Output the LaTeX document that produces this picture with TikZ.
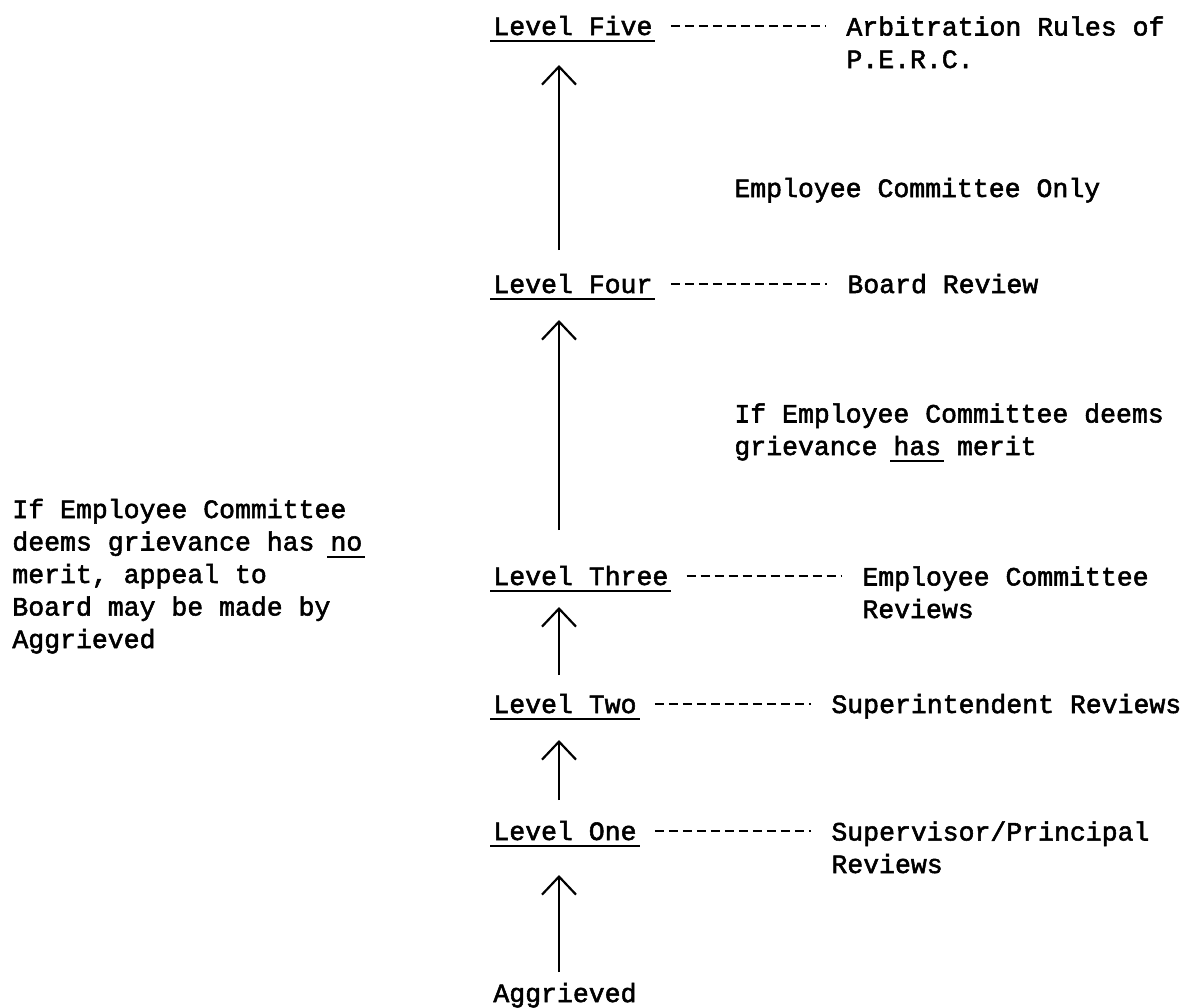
\documentclass[tikz,border=0pt]{standalone}
\usepackage{fontspec}
\setmainfont{Liberation Mono}[FakeBold=2]
\usetikzlibrary{arrows.meta}
\newcommand{\uln}[1]{\setbox0\hbox{#1}\rlap{\kern-1.5pt\rule[-3.5pt]{\dimexpr\wd0+3pt\relax}{1pt}}\box0\relax}
\begin{document}
\begin{tikzpicture}[x=0.5pt,y=-0.5pt,
  every node/.style={inner sep=0pt,anchor=base west,font=\fontsize{13.25}{16.25}\selectfont},
  note/.style={align=left},
  uparr/.style={line width=1.1pt,-{Straight Barb[length=9pt,width=17pt,line width=1.1pt]}},
  dashline/.style={line width=1.2pt,dash pattern=on 4.5pt off 2.5pt,shorten <=9pt,shorten >=10pt}]
\useasboundingbox (0,0) rectangle (1186,1007);
%
\node (l5) at (493,35) {\uln{Level Five}};
\node (l4) at (493,293) {\uln{Level Four}};
\node (l3) at (493,585) {\uln{Level Three}};
\node (l2) at (493,713) {\uln{Level Two}};
\node (l1) at (493,840) {\uln{Level One}};
\node (agg) at (493,1002) {Aggrieved};
%
% multi-line notes sit on their last line
\node[note] (d5) at (846,68) {Arbitration Rules of\\P.E.R.C.};
\node[note] (d4) at (847,293) {Board Review};
\node[note] (d3) at (862,618) {Employee Committee\\Reviews};
\node[note] (d2) at (831,713) {Superintendent Reviews};
\node[note] (d1) at (831,873) {Supervisor/Principal\\Reviews};
%
\node[note] (only) at (734,197) {Employee Committee Only};
\node[note] (merit) at (734,455) {If Employee Committee deems\\grievance \uln{has} merit};
\node[note] (nomerit) at (12,648) {If Employee Committee\\deems grievance has \uln{no}\\merit, appeal to\\Board may be made by\\Aggrieved};
%
\coordinate (ax) at (559,0);
\draw[uparr,shorten <=15pt,shorten >=17.5pt] (agg.base -| ax) -- (l1.base -| ax);
\draw[uparr,shorten <=20pt,shorten >=13.5pt] (l1.base -| ax) -- (l2.base -| ax);
\draw[uparr,shorten <=19pt,shorten >=11pt] (l2.base -| ax) -- (l3.base -| ax);
\draw[uparr,shorten <=27.5pt,shorten >=13.5pt] (l3.base -| ax) -- (l4.base -| ax);
\draw[uparr,shorten <=21.5pt,shorten >=15pt] (l4.base -| ax) -- (l5.base -| ax);
%
\foreach \a/\b in {l5/d5,l4/d4,l3/d3,l2/d2,l1/d1}
  \draw[dashline] ([yshift=4.5pt]\a.base east) -- ([yshift=4.5pt]\a.base east -| \b.west);
\end{tikzpicture}
\end{document}
